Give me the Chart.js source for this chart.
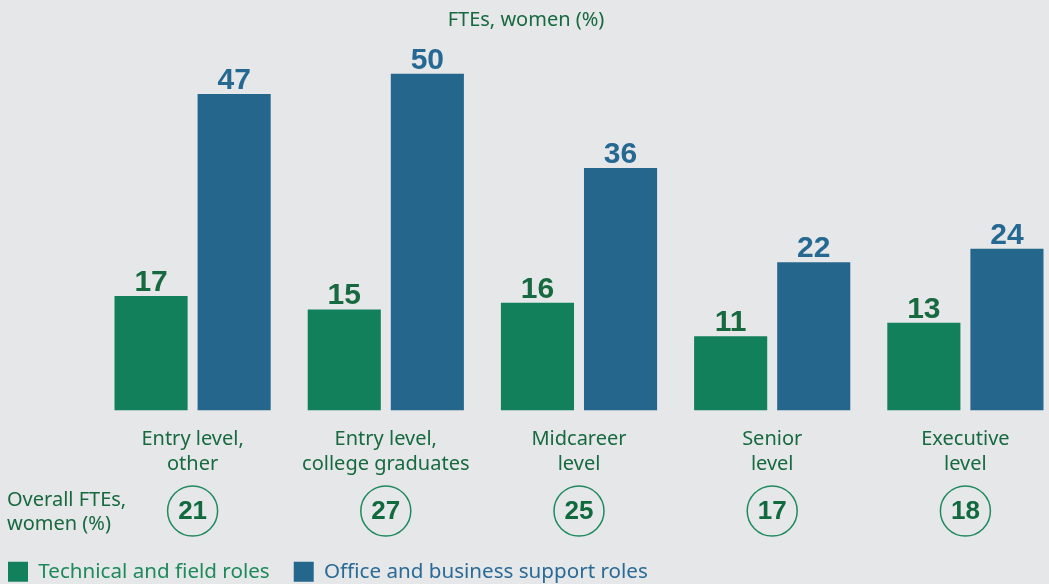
<!DOCTYPE html>
<html>
<head>
<meta charset="utf-8">
<script src="https://cdn.jsdelivr.net/npm/chart.js@4/dist/chart.umd.min.js"></script>
<style>
  html, body { margin: 0; padding: 0; background: #e6e7e9; overflow: hidden; }
  #marco { width: 1049px; height: 584px; overflow: hidden; position: relative; }
  #marco canvas { position: absolute; left: 0; top: 0; }
</style>
</head>
<body>
<div id="marco"><canvas id="grafica" width="1070" height="592" style="width:1070px;height:592px"></canvas></div>
<script>
const categorias = [
    ['Entry level,', 'other'],
    ['Entry level,', 'college graduates'],
    ['Midcareer', 'level'],
    ['Senior', 'level'],
    ['Executive', 'level']
];
const tecnicos = [17, 15, 16, 11, 13];
const oficina = [47, 50, 36, 22, 24];
const totales = [21, 27, 25, 17, 18];

const verde = '#13805c';
const azul = '#24668c';
const textoVerde = '#17693f';
const fuente = '"Noto Sans", sans-serif';
const fuenteNum = '"Liberation Sans", Arial, sans-serif';

// etiquetas encima de cada barra
const valoresPlugin = {
    id: 'valores',
    afterDatasetsDraw(chart) {
        const ctx = chart.ctx;
        ctx.save();
        ctx.font = 'bold 30px ' + fuenteNum;
        ctx.textAlign = 'center';
        ctx.textBaseline = 'alphabetic';
        chart.data.datasets.forEach((ds, i) => {
            ctx.fillStyle = i === 0 ? textoVerde : '#256891';
            chart.getDatasetMeta(i).data.forEach((bar, j) => {
                ctx.fillText(ds.data[j], bar.x, bar.y - 5);
            });
        });
        ctx.restore();
    }
};

// titulo, circulos con el total y texto de la izquierda
const extrasPlugin = {
    id: 'extras',
    afterDraw(chart) {
        const ctx = chart.ctx;
        const x = chart.scales.x;
        ctx.save();
        ctx.fillStyle = textoVerde;
        ctx.font = '20px ' + fuente;
        ctx.textAlign = 'center';
        ctx.textBaseline = 'alphabetic';
        ctx.fillText('FTEs, women (%)', 526, 26);

        ctx.textAlign = 'left';
        ctx.fillText('Overall FTEs,', 7, 506);
        ctx.fillText('women (%)', 7, 530);

        totales.forEach((v, i) => {
            const cx = x.getPixelForValue(i);
            ctx.beginPath();
            ctx.arc(cx, 511, 25, 0, Math.PI * 2);
            ctx.strokeStyle = '#1f8a5e';
            ctx.lineWidth = 1.5;
            ctx.stroke();
            ctx.fillStyle = '#116a3e';
            ctx.font = 'bold 26px ' + fuenteNum;
            ctx.textAlign = 'center';
            ctx.textBaseline = 'middle';
            ctx.fillText(v, cx, 512);
        });
        ctx.restore();
    }
};

const ctx = document.getElementById('grafica').getContext('2d');
new Chart(ctx, {
    type: 'bar',
    data: {
        labels: categorias,
        datasets: [
            {
                label: 'Technical and field roles',
                data: tecnicos,
                backgroundColor: verde
            },
            {
                label: 'Office and business support roles',
                data: oficina,
                backgroundColor: azul
            }
        ]
    },
    options: {
        responsive: false,
        animation: false,
        layout: { padding: { top: 40, right: 8, left: 0, bottom: 0 } },
        datasets: {
            bar: { categoryPercentage: 0.86, barPercentage: 0.88 }
        },
        scales: {
            x: {
                grid: { display: false, drawTicks: false },
                border: { display: false },
                ticks: {
                    color: textoVerde,
                    padding: 16,
                    font: { family: fuente, size: 20, lineHeight: 1.25 },
                    maxRotation: 0,
                    autoSkip: false
                },
                afterFit(scale) { scale.height = 143; }
            },
            y: {
                min: 0,
                max: 55,
                grid: { display: false, drawTicks: false },
                border: { display: false },
                ticks: { display: false },
                afterFit(scale) { scale.width = 96; }
            }
        },
        plugins: {
            tooltip: { enabled: false },
            legend: {
                position: 'bottom',
                align: 'start',
                labels: {
                    boxWidth: 20,
                    boxHeight: 20,
                    padding: 8,
                    font: { family: fuente, size: 20.6 },
                    generateLabels(chart) {
                        const colores = ['#1c8a5a', '#2a6a95'];
                        const n = chart.data.datasets.length;
                        return chart.data.datasets.map((ds, i) => ({
                            text: i < n - 1 ? ds.label + '   ' : ds.label,
                            fillStyle: ds.backgroundColor,
                            strokeStyle: ds.backgroundColor,
                            lineWidth: 0,
                            fontColor: colores[i],
                            hidden: false,
                            datasetIndex: i
                        }));
                    }
                }
            }
        }
    },
    plugins: [valoresPlugin, extrasPlugin]
});
</script>
</body>
</html>
